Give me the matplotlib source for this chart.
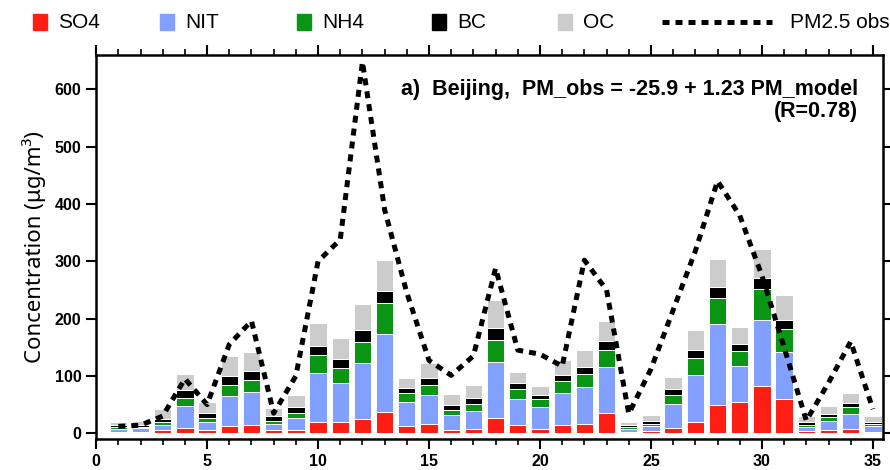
import matplotlib.pyplot as plt
from matplotlib.patches import Rectangle
from matplotlib.lines import Line2D
from matplotlib.ticker import MultipleLocator

plt.rcParams['font.family'] = ['Liberation Sans', 'DejaVu Sans']

# daily values (ug/m3)
days = list(range(1, 36))
so4 = [3, 3, 5, 9, 5, 12, 14, 5, 6, 19, 20, 24, 37, 12, 16, 6, 8, 27, 15, 8,
       14, 16, 35, 3, 4, 9, 20, 49, 55, 82, 59, 4, 5, 8, 2]
nit = [5, 6, 10, 38, 15, 53, 58, 12, 21, 86, 67, 98, 137, 43, 50, 25, 31, 97, 44, 37,
       56, 64, 81, 5, 9, 42, 81, 141, 63, 115, 82, 7, 16, 26, 10]
nh4 = [3, 2, 4, 15, 7, 19, 21, 5, 8, 32, 27, 38, 53, 16, 19, 9, 12, 38, 19, 14,
       21, 24, 30, 3, 4, 16, 31, 46, 25, 55, 41, 4, 7, 12, 4]
bc = [3, 4, 6, 13, 8, 16, 16, 8, 10, 16, 16, 21, 22, 8, 12, 9, 10, 21, 9, 7,
      11, 12, 15, 3, 5, 10, 14, 20, 13, 19, 15, 4, 6, 7, 4]
oc = [6, 6, 17, 29, 20, 35, 32, 14, 22, 40, 37, 44, 54, 17, 25, 19, 24, 49, 19, 17,
      25, 29, 35, 6, 9, 22, 35, 48, 29, 51, 44, 11, 14, 17, 10]
other = [1, 1, 1, 1, 1, 1, 1, 1, 1, 1, 1, 1, 1, 1, 1, 1, 1, 1, 1, 1,
         1, 1, 1, 1, 1, 1, 1, 1, 1, 1, 1, 1, 1, 1, 1]
pm_obs = [12, 14, 30, 95, 50, 155, 196, 35, 100, 300, 338, 648, 390, 245, 127, 101, 135, 288, 145, 138,
          117, 302, 250, 34, 112, 215, 318, 440, 380, 275, 150, 22, 88, 160, 42]

names = ['SO4', 'NIT', 'NH4', 'BC', 'OC']
colors = ['#ff1e14', '#82a0ff', '#0a9614', '#000000', '#cccccc']
yellow = '#f0e830'

fig = plt.figure(figsize=(8.9, 4.7), dpi=100)
ax = fig.add_axes([0.108, 0.066, 0.884, 0.817])

bottom = [0] * len(days)
for vals, col in zip([so4, nit, nh4, bc, oc, other], colors + [yellow]):
    ax.bar(days, vals, width=0.78, bottom=bottom, color=col, edgecolor='white', linewidth=0.7)
    bottom = [b + v for b, v in zip(bottom, vals)]

ax.plot(days, pm_obs, color='black', linewidth=3.6, linestyle=(0, (1.4, 1.2)))

ax.set_xlim(0, 35.45)
ax.set_ylim(-10, 660)
ax.xaxis.set_major_locator(MultipleLocator(5))
ax.xaxis.set_minor_locator(MultipleLocator(1))
ax.yaxis.set_major_locator(MultipleLocator(100))
ax.tick_params(axis='both', which='major', direction='out', length=7, width=1.5,
               top=True, right=True, labelsize=11.5)
ax.tick_params(axis='x', which='minor', direction='out', length=4, width=1.2, top=True)
for lab in ax.get_xticklabels() + ax.get_yticklabels():
    lab.set_fontweight('bold')
for sp in ax.spines.values():
    sp.set_linewidth(1.8)

ax.set_ylabel('Concentration (μg/m³)', fontsize=16, labelpad=6,
              family=['Noto Sans', 'DejaVu Sans'])

ax.text(0.968, 0.909, 'a)  Beijing,  PM_obs = -25.9 + 1.23 PM_model', transform=ax.transAxes,
        ha='right', va='center', fontsize=15.5, fontweight='bold')
ax.text(0.968, 0.852, '(R=0.78)', transform=ax.transAxes,
        ha='right', va='center', fontsize=15.5, fontweight='bold')

# legend row above the axes
sq_x = [33, 160, 297, 432, 558]
for x0, col, name in zip(sq_x, colors, names):
    fig.add_artist(Rectangle((x0 / 890, 1 - 30 / 470), 14 / 890, 16 / 470,
                             transform=fig.transFigure, color=col))
    fig.text((x0 + 25) / 890, 1 - 22 / 470, name, ha='left', va='center', fontsize=15)
fig.add_artist(Line2D([662 / 890, 772 / 890], [1 - 22 / 470, 1 - 22 / 470], transform=fig.transFigure,
                      color='black', linewidth=3.6, linestyle=(0, (1.4, 1.2))))
fig.text(790 / 890, 1 - 22 / 470, 'PM2.5 obs', ha='left', va='center', fontsize=15)

fig.savefig('out.png', dpi=100)
